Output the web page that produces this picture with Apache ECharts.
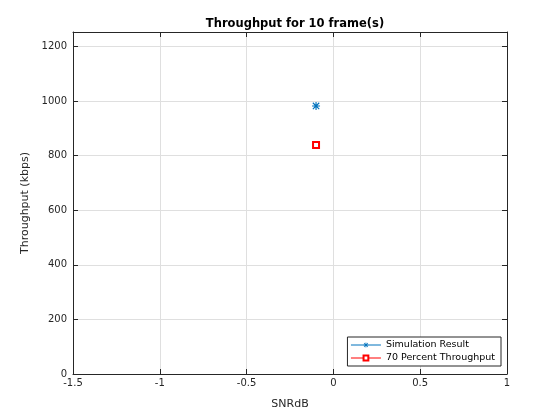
<!DOCTYPE html>
<html><head><meta charset="utf-8">
<script src="https://cdn.jsdelivr.net/npm/echarts@6/dist/echarts.min.js"></script>
<style>html,body{margin:0;padding:0;background:#fff}#c{width:560px;height:420px}</style>
</head><body><div id="c"></div>
<script>
const snrX = [-0.1];
const simThroughput = [982];
const pct70Throughput = [839];
const seriesNames = ['Simulation Result', '70 Percent Throughput'];
const titleText = 'Throughput for 10 frame(s)';
const xName = 'SNRdB';
const yName = 'Throughput (kbps)';

const starPath = 'path://M0 4.3 L10 4.3 L10 5.7 L0 5.7 Z M4.3 0 L5.7 0 L5.7 10 L4.3 10 Z M0.5 1.5 L1.5 0.5 L9.5 8.5 L8.5 9.5 Z M8.5 0.5 L9.5 1.5 L1.5 9.5 L0.5 8.5 Z';
const font = 'DejaVu Sans';
const axCol = '#262626';
const chart = echarts.init(document.getElementById('c'));
const xCommon = {type:'value', min:-1.5, max:1, interval:0.5};
const yCommon = {type:'value', min:0, max:1253, interval:200};
chart.setOption({
  animation:false,
  backgroundColor:'#fff',
  title:{text:titleText, left:290, textAlign:'center', top:13, textStyle:{fontFamily:font, fontSize:11.5, fontWeight:'bold', color:'#000'}},
  grid:{left:73, right:53, top:32, bottom:46},
  legend:{orient:'vertical', right:59, bottom:54, backgroundColor:'#fff', borderColor:axCol, borderWidth:1,
    padding:[3,6,3,3], itemGap:3, itemWidth:30, itemHeight:6,
    lineStyle:{width:1},
    textStyle:{fontFamily:font, fontSize:9.5, color:'#000'}, data:seriesNames},
  xAxis:[
    Object.assign({}, xCommon, {position:'bottom', name:xName, nameLocation:'middle', nameGap:25,
      nameTextStyle:{fontFamily:font, fontSize:11, color:axCol},
      axisLine:{show:true, onZero:false, lineStyle:{color:axCol}}, axisTick:{inside:true, length:5, lineStyle:{color:axCol}},
      axisLabel:{fontFamily:font, fontSize:10, color:axCol, margin:4},
      splitLine:{show:true, lineStyle:{color:'#dfdfdf'}}}),
    Object.assign({}, xCommon, {position:'top', axisLine:{show:true, onZero:false, lineStyle:{color:axCol}},
      axisTick:{inside:true, length:5, lineStyle:{color:axCol}}, axisLabel:{show:false}, splitLine:{show:false}})
  ],
  yAxis:[
    Object.assign({}, yCommon, {position:'left', name:yName, nameLocation:'middle', nameGap:40, nameRotate:90,
      nameTextStyle:{fontFamily:font, fontSize:11, color:axCol},
      axisLine:{show:true, onZero:false, lineStyle:{color:axCol}}, axisTick:{inside:true, length:5, lineStyle:{color:axCol}},
      axisLabel:{fontFamily:font, fontSize:10, color:axCol, margin:6, formatter:v => (v % 200 === 0 ? String(v) : '')},
      splitLine:{show:true, lineStyle:{color:'#dfdfdf'}}}),
    Object.assign({}, yCommon, {position:'right', axisLine:{show:true, onZero:false, lineStyle:{color:axCol}},
      axisTick:{inside:true, length:5, lineStyle:{color:axCol}}, axisLabel:{show:false}, splitLine:{show:false}})
  ],
  series:[
    {name:seriesNames[0], type:'line', data:snrX.map((x,i)=>[x, simThroughput[i]]),
      symbol:starPath, symbolSize:8, lineStyle:{color:'#0072BD', width:1}, itemStyle:{color:'#0072BD'}},
    {name:seriesNames[1], type:'line', data:snrX.map((x,i)=>[x, pct70Throughput[i]]),
      symbol:'emptyRect', symbolSize:6, lineStyle:{color:'#FF0000', width:1}, itemStyle:{color:'#FF0000', borderWidth:1}}
  ]
});
</script></body></html>
